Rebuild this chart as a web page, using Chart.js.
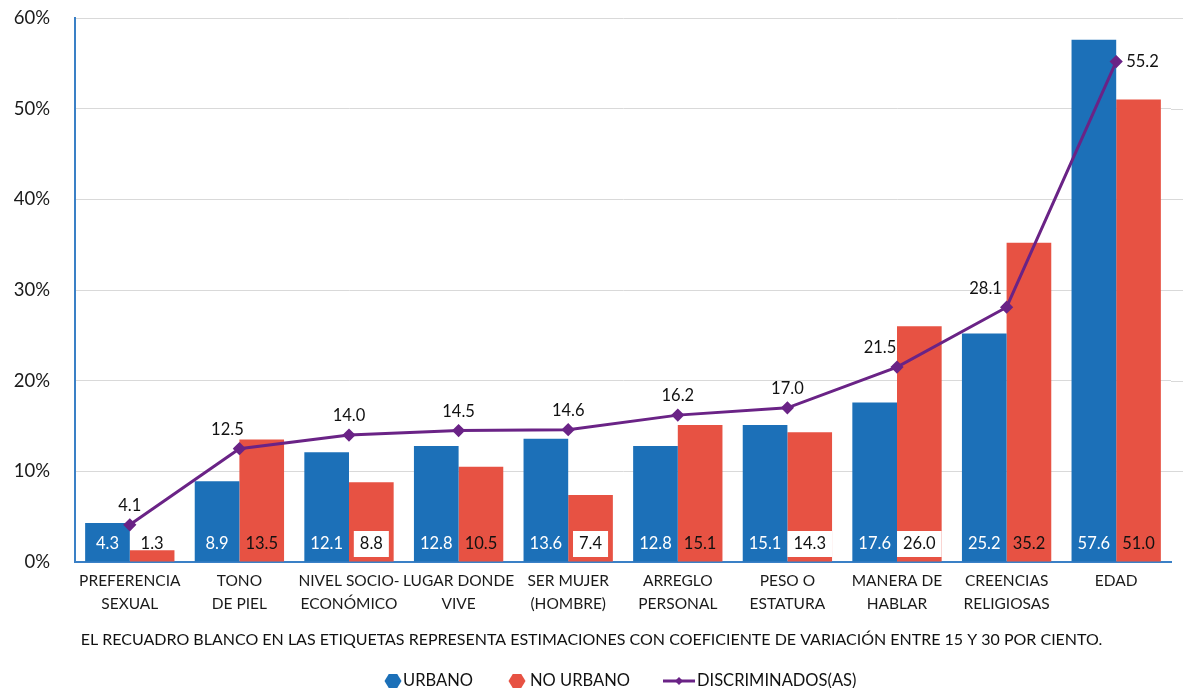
<!DOCTYPE html>
<html>
<head>
<meta charset="utf-8">
<script src="https://cdn.jsdelivr.net/npm/chart.js@4"></script>
<style>
  html, body { margin: 0; padding: 0; background: #fff; }
  #wrap { width: 1183px; height: 688px; }
</style>
</head>
<body>
<div id="wrap"><canvas id="chart"></canvas></div>
<script>
const categories = [
  ['PREFERENCIA', 'SEXUAL'],
  ['TONO', 'DE PIEL'],
  ['NIVEL SOCIO-', 'ECONÓMICO'],
  ['LUGAR DONDE', 'VIVE'],
  ['SER MUJER', '(HOMBRE)'],
  ['ARREGLO', 'PERSONAL'],
  ['PESO O', 'ESTATURA'],
  ['MANERA DE', 'HABLAR'],
  ['CREENCIAS', 'RELIGIOSAS'],
  ['EDAD'],
]
const urbano = [4.3, 8.9, 12.1, 12.8, 13.6, 12.8, 15.1, 17.6, 25.2, 57.6]
const noUrbano = [1.3, 13.5, 8.8, 10.5, 7.4, 15.1, 14.3, 26.0, 35.2, 51.0]
const discriminados = [4.1, 12.5, 14.0, 14.5, 14.6, 16.2, 17.0, 21.5, 28.1, 55.2]
// estimaciones con CV entre 15 y 30 (recuadro blanco)
const urbanoCV = [false, false, false, false, false, false, false, false, false, false]
const noUrbanoCV = [false, false, true, false, true, false, true, true, false, false]
const yTicks = [0, 10, 20, 30, 40, 50, 60]
const nota = 'EL RECUADRO BLANCO EN LAS ETIQUETAS REPRESENTA ESTIMACIONES CON COEFICIENTE DE VARIACIÓN ENTRE 15 Y 30 POR CIENTO.'

const BLUE = '#1c70b8'
const RED = '#e75243'
const PURPLE = '#6a2386'
const GRID = '#d9d9d9'
const FONT = 'Lato, "Open Sans", sans-serif'

// las líneas de la rejilla llegan hasta el borde derecho
const gridToEdge = {
  id: 'gridToEdge',
  beforeDatasetsDraw(chart) {
    const { ctx, chartArea, scales, width } = chart
    ctx.save()
    ctx.strokeStyle = GRID
    ctx.lineWidth = 1
    yTicks.slice(1).forEach((v) => {
      const y = Math.round(scales.y.getPixelForValue(v)) + 0.5
      ctx.beginPath()
      ctx.moveTo(chartArea.right, y)
      ctx.lineTo(width, y)
      ctx.stroke()
    })
    ctx.restore()
  },
}

const valueLabels = {
  id: 'valueLabels',
  afterDatasetsDraw(chart) {
    const { ctx, scales } = chart
    const base = scales.y.getPixelForValue(0)
    ctx.save()
    ctx.font = `16.5px ${FONT}`
    ctx.textAlign = 'center'
    ctx.textBaseline = 'middle'
    const bars = [
      { idx: 0, values: urbano, cv: urbanoCV, color: '#fff' },
      { idx: 1, values: noUrbano, cv: noUrbanoCV, color: '#111' },
    ]
    bars.forEach((b) => {
      chart.getDatasetMeta(b.idx).data.forEach((el, i) => {
        const text = b.values[i].toFixed(1)
        const y = base - 18
        if (b.cv[i]) {
          const w = ctx.measureText(text).width + 12
          ctx.fillStyle = '#fff'
          ctx.fillRect(el.x - w / 2, y - 13, w, 26)
          ctx.fillStyle = '#111'
        } else {
          ctx.fillStyle = b.color
        }
        ctx.fillText(text, el.x, y)
      })
    })
    // etiquetas de la línea: las que chocan con la línea se corren a la izquierda
    const shiftLeft = [0, 12, 0, 0, 0, 0, 0, 17, 21]
    ctx.fillStyle = '#111'
    chart.getDatasetMeta(2).data.forEach((pt, i) => {
      const text = discriminados[i].toFixed(1)
      if (i === discriminados.length - 1) {
        ctx.textAlign = 'left'
        ctx.fillText(text, pt.x + 10, pt.y)
      } else {
        ctx.textAlign = 'center'
        ctx.fillText(text, pt.x - shiftLeft[i], pt.y - 19)
      }
    })
    ctx.restore()
  },
}

// nota y leyenda dibujadas al pie
function drawHexagon(ctx, cx, cy, w, h, color) {
  ctx.fillStyle = color
  ctx.beginPath()
  ctx.moveTo(cx - w / 2, cy)
  ctx.lineTo(cx - w / 4, cy - h / 2)
  ctx.lineTo(cx + w / 4, cy - h / 2)
  ctx.lineTo(cx + w / 2, cy)
  ctx.lineTo(cx + w / 4, cy + h / 2)
  ctx.lineTo(cx - w / 4, cy + h / 2)
  ctx.closePath()
  ctx.fill()
}

const footer = {
  id: 'footer',
  afterDraw(chart) {
    const { ctx, width } = chart
    ctx.save()
    ctx.fillStyle = '#111'
    ctx.textBaseline = 'middle'
    ctx.font = `16px ${FONT}`
    ctx.textAlign = 'center'
    ctx.fillText(nota, width / 2, 640)

    ctx.font = `16.5px ${FONT}`
    ctx.textAlign = 'left'
    const y = 681
    let x = 385
    drawHexagon(ctx, x + 8, y, 17, 14, BLUE)
    ctx.fillStyle = '#111'
    ctx.fillText('URBANO', x + 18, y)
    x = 509
    drawHexagon(ctx, x + 8, y, 17, 14, RED)
    ctx.fillStyle = '#111'
    ctx.fillText('NO URBANO', x + 21, y)
    x = 663
    ctx.strokeStyle = PURPLE
    ctx.lineWidth = 3
    ctx.beginPath()
    ctx.moveTo(x, y)
    ctx.lineTo(x + 32, y)
    ctx.stroke()
    ctx.fillStyle = PURPLE
    ctx.beginPath()
    ctx.moveTo(x + 16, y - 4)
    ctx.lineTo(x + 20, y)
    ctx.lineTo(x + 16, y + 4)
    ctx.lineTo(x + 12, y)
    ctx.closePath()
    ctx.fill()
    ctx.fillStyle = '#111'
    ctx.fillText('DISCRIMINADOS(AS)', x + 34, y)
    ctx.restore()
  },
}

const ctx = document.getElementById('chart').getContext('2d')
// eslint-disable-next-line no-unused-vars
const myChart = new Chart(ctx, {
  data: {
    labels: categories,
    datasets: [
      {
        type: 'bar',
        label: 'URBANO',
        data: urbano,
        backgroundColor: BLUE,
        categoryPercentage: 0.815,
        barPercentage: 1,
        order: 1,
      },
      {
        type: 'bar',
        label: 'NO URBANO',
        data: noUrbano,
        backgroundColor: RED,
        categoryPercentage: 0.815,
        barPercentage: 1,
        order: 1,
      },
      {
        type: 'line',
        label: 'DISCRIMINADOS(AS)',
        data: discriminados,
        borderColor: PURPLE,
        backgroundColor: PURPLE,
        borderWidth: 3,
        pointStyle: 'rectRot',
        pointRadius: 4.5,
        pointHoverRadius: 4.5,
        tension: 0,
        order: 0,
      },
    ],
  },
  options: {
    responsive: true,
    maintainAspectRatio: false,
    animation: false,
    layout: {
      autoPadding: false,
      padding: { top: 18, right: 12, bottom: 60, left: 0 },
    },
    scales: {
      x: {
        grid: { display: false, drawTicks: false },
        border: { color: '#3a80c6', width: 2 },
        afterFit: (scale) => {
          scale.height = 66
          scale.paddingLeft = 0
          scale.paddingRight = 0
        },
        ticks: {
          padding: 8,
          color: '#1a1a1a',
          maxRotation: 0,
          autoSkip: false,
          font: { family: FONT, size: 15.5, lineHeight: 1.45 },
        },
      },
      y: {
        min: 0,
        max: 60,
        afterFit: (scale) => {
          scale.width = 75
          scale.paddingTop = 0
          scale.paddingBottom = 0
        },
        afterBuildTicks: (scale) => {
          scale.ticks = yTicks.map((v) => ({ value: v }))
        },
        grid: { color: GRID, lineWidth: 1, drawTicks: false },
        border: { color: '#3a80c6', width: 2 },
        ticks: {
          padding: 25,
          color: '#1a1a1a',
          callback: (value) => `${value}%`,
          font: { family: FONT, size: 18.5 },
        },
      },
    },
    plugins: {
      legend: { display: false },
      tooltip: { enabled: false },
    },
  },
  plugins: [gridToEdge, valueLabels, footer],
})
</script>
</body>
</html>
